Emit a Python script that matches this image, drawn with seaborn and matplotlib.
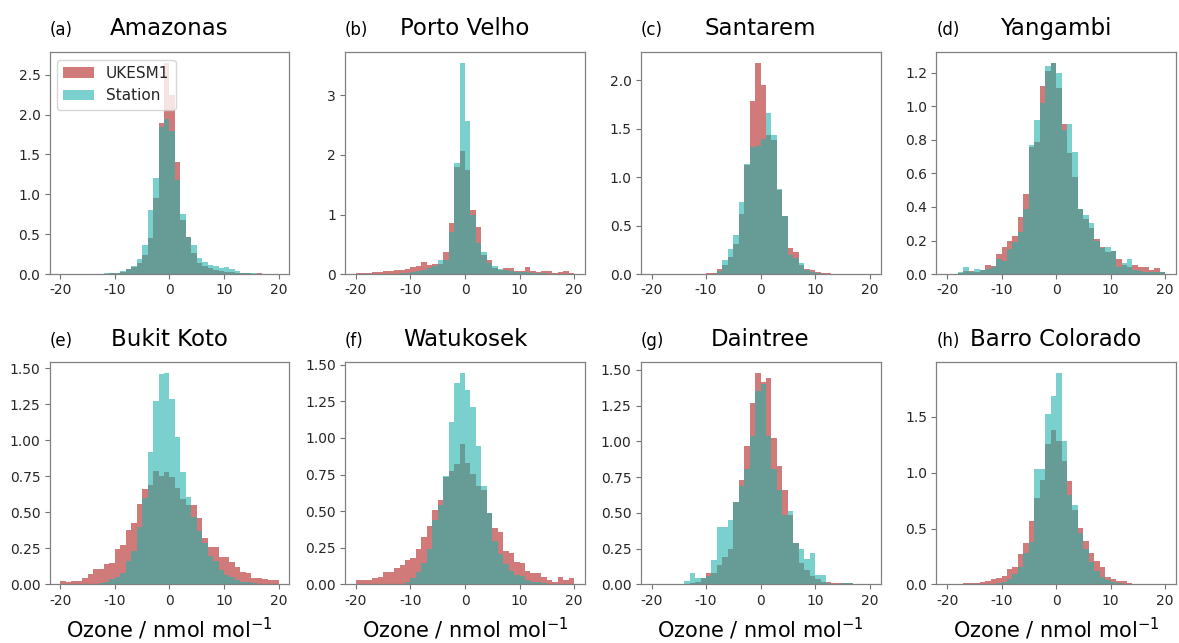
import numpy as np
import pandas as pd
import matplotlib
matplotlib.use("Agg")
import matplotlib.pyplot as plt
import seaborn as sns

# ---------------- data (bin heights, bins of width 1 from -20 to 20) ----------------
bin_edges = list(range(-20, 21))

site_names = ["Amazonas", "Porto Velho", "Santarem", "Yangambi",
              "Bukit Koto", "Watukosek", "Daintree", "Barro Colorado"]
panel_tags = ["(a)", "(b)", "(c)", "(d)", "(e)", "(f)", "(g)", "(h)"]
series_names = ["UKESM1", "Station"]

amazonas_model = [0, 0, 0, 0, 0, 0, 0, 0, 0.003, 0.008,
                  0.012, 0.025, 0.065, 0.095, 0.14, 0.24, 0.45, 0.96, 1.89, 2.65,
                  2.24, 1.40, 0.68, 0.46, 0.26, 0.14, 0.10, 0.08, 0.055, 0.04,
                  0.03, 0.025, 0.017, 0.012, 0.008, 0.006, 0.008, 0.004, 0, 0]
amazonas_station = [0, 0, 0, 0, 0, 0, 0, 0, 0.008, 0.015,
                    0.02, 0.035, 0.07, 0.10, 0.19, 0.36, 0.80, 1.20, 1.84, 1.95,
                    1.79, 1.18, 0.75, 0.47, 0.36, 0.20, 0.15, 0.12, 0.10, 0.075,
                    0.09, 0.06, 0.035, 0.02, 0.012, 0.008, 0.005, 0.003, 0, 0]

portovelho_model = [0.02, 0.02, 0.015, 0.03, 0.035, 0.045, 0.06, 0.075, 0.075, 0.085,
                    0.12, 0.13, 0.20, 0.16, 0.17, 0.17, 0.37, 0.86, 1.80, 2.06,
                    1.74, 1.07, 0.79, 0.32, 0.24, 0.10, 0.07, 0.11, 0.10, 0.06,
                    0.06, 0.12, 0.045, 0.04, 0.06, 0.05, 0.02, 0.03, 0.05, 0.025]
portovelho_station = [0, 0, 0, 0, 0, 0, 0.005, 0.008, 0.012, 0.02,
                      0.03, 0.045, 0.07, 0.10, 0.13, 0.24, 0.24, 0.71, 1.87, 3.55,
                      2.57, 1.00, 0.52, 0.37, 0.19, 0.13, 0.09, 0.07, 0.045, 0.04,
                      0.035, 0.03, 0.025, 0.02, 0.012, 0.008, 0.005, 0, 0, 0]

santarem_model = [0, 0, 0, 0, 0, 0, 0, 0, 0.003, 0.005,
                  0.01, 0.015, 0.05, 0.09, 0.18, 0.31, 0.62, 1.12, 1.78, 2.18,
                  1.95, 1.43, 1.38, 0.87, 0.60, 0.27, 0.23, 0.095, 0.05, 0.04,
                  0.025, 0.015, 0.008, 0.003, 0, 0, 0, 0, 0, 0]
santarem_station = [0, 0, 0, 0, 0, 0, 0, 0, 0, 0,
                    0, 0.005, 0.03, 0.15, 0.26, 0.40, 0.74, 1.14, 1.31, 1.32,
                    1.39, 1.66, 1.43, 0.88, 0.60, 0.20, 0.165, 0.11, 0.04, 0.02,
                    0.01, 0.005, 0, 0, 0, 0, 0, 0, 0, 0]

yangambi_model = [0, 0, 0.005, 0.016, 0.016, 0.01, 0.026, 0.056, 0.05, 0.12,
                  0.16, 0.20, 0.23, 0.34, 0.48, 0.76, 0.79, 1.12, 1.21, 1.26,
                  1.11, 0.895, 0.72, 0.58, 0.39, 0.33, 0.275, 0.21, 0.16, 0.13,
                  0.135, 0.09, 0.056, 0.045, 0.052, 0.042, 0.042, 0.022, 0.036, 0.01]
yangambi_station = [0, 0, 0.01, 0.04, 0.01, 0.03, 0.026, 0.03, 0.045, 0.09,
                    0.08, 0.15, 0.19, 0.25, 0.39, 0.77, 0.92, 1.02, 1.24, 1.26,
                    1.20, 0.86, 0.895, 0.73, 0.385, 0.35, 0.305, 0.20, 0.155, 0.16,
                    0.135, 0.045, 0.066, 0.09, 0.026, 0.02, 0.015, 0.012, 0.01, 0.015]

bukitkoto_model = [0.025, 0.018, 0.023, 0.023, 0.042, 0.075, 0.11, 0.11, 0.145, 0.15,
                   0.245, 0.275, 0.38, 0.425, 0.56, 0.665, 0.69, 0.786, 0.75, 0.78,
                   0.744, 0.67, 0.59, 0.55, 0.55, 0.46, 0.32, 0.26, 0.26, 0.19,
                   0.193, 0.158, 0.123, 0.088, 0.077, 0.046, 0.046, 0.035, 0.03, 0.03]
bukitkoto_station = [0, 0, 0, 0, 0, 0, 0.005, 0.01, 0.02, 0.035,
                     0.053, 0.077, 0.16, 0.23, 0.40, 0.60, 0.92, 1.27, 1.46, 1.467,
                     1.286, 1.02, 0.78, 0.61, 0.47, 0.37, 0.29, 0.20, 0.16, 0.10,
                     0.065, 0.053, 0.03, 0.02, 0.015, 0.01, 0.005, 0, 0, 0]

watukosek_model = [0.034, 0.034, 0.034, 0.041, 0.053, 0.087, 0.087, 0.11, 0.133, 0.167,
                   0.178, 0.24, 0.327, 0.396, 0.51, 0.574, 0.735, 0.773, 0.82, 0.956,
                   0.826, 0.757, 0.67, 0.647, 0.49, 0.384, 0.361, 0.23, 0.217, 0.155,
                   0.149, 0.094, 0.08, 0.08, 0.053, 0.034, 0.018, 0.053, 0.034, 0.041]
watukosek_station = [0, 0, 0, 0, 0, 0, 0, 0, 0.005, 0.018,
                     0.046, 0.087, 0.15, 0.24, 0.44, 0.544, 0.743, 1.11, 1.374, 1.443,
                     1.33, 1.21, 0.944, 0.67, 0.49, 0.30, 0.21, 0.14, 0.09, 0.064,
                     0.057, 0.03, 0.02, 0.015, 0.01, 0.005, 0, 0, 0, 0]

daintree_model = [0, 0, 0, 0, 0, 0, 0.005, 0.01, 0.02, 0.042,
                  0.077, 0.08, 0.136, 0.194, 0.25, 0.573, 0.728, 0.967, 1.266, 1.477,
                  1.416, 1.44, 1.025, 0.826, 0.662, 0.487, 0.29, 0.15, 0.10, 0.06,
                  0.04, 0.02, 0.015, 0.01, 0.008, 0.008, 0.008, 0.006, 0.004, 0]
daintree_station = [0, 0, 0, 0, 0, 0, 0.023, 0.077, 0.042, 0.047,
                    0.06, 0.17, 0.40, 0.40, 0.447, 0.573, 0.686, 0.807, 1.037, 1.353,
                    1.40, 1.04, 0.807, 0.662, 0.487, 0.51, 0.288, 0.246, 0.18, 0.218,
                    0.066, 0.066, 0.012, 0.005, 0.005, 0.012, 0.012, 0.005, 0, 0]

barrocolorado_model = [0, 0, 0.005, 0.015, 0.009, 0.009, 0.024, 0.033, 0.045, 0.06,
                       0.078, 0.138, 0.153, 0.273, 0.375, 0.564, 0.77, 0.933, 1.254, 1.383,
                       1.284, 1.104, 0.924, 0.67, 0.504, 0.393, 0.279, 0.213, 0.153, 0.069,
                       0.045, 0.033, 0.03, 0.015, 0.005, 0, 0, 0, 0, 0]
barrocolorado_station = [0, 0, 0, 0, 0, 0, 0, 0, 0, 0.012,
                         0.025, 0.05, 0.09, 0.16, 0.28, 0.384, 1.035, 1.035, 1.524, 1.683,
                         1.893, 1.284, 0.80, 0.714, 0.465, 0.32, 0.20, 0.12, 0.07, 0.04,
                         0.025, 0.01, 0, 0, 0, 0, 0, 0, 0, 0]

model_series = [amazonas_model, portovelho_model, santarem_model, yangambi_model,
                bukitkoto_model, watukosek_model, daintree_model, barrocolorado_model]
station_series = [amazonas_station, portovelho_station, santarem_station, yangambi_station,
                  bukitkoto_station, watukosek_station, daintree_station, barrocolorado_station]

# ---------------- style ----------------
sns.set_style("ticks")
plt.rcParams["font.family"] = ["DejaVu Sans"]
plt.rcParams["axes.unicode_minus"] = False
plt.rcParams["axes.edgecolor"] = "0.5"
plt.rcParams["xtick.color"] = "0.45"
plt.rcParams["ytick.color"] = "0.45"
plt.rcParams["xtick.labelcolor"] = "0.15"
plt.rcParams["ytick.labelcolor"] = "0.15"

model_color = "firebrick"
station_color = "lightseagreen"

fig, axes = plt.subplots(2, 4, figsize=(11.79, 6.43), dpi=100)
fig.subplots_adjust(left=0.042, right=0.9975, top=0.919, bottom=0.091,
                    wspace=0.232, hspace=0.398)

centers = [(bin_edges[k] + bin_edges[k + 1]) / 2 for k in range(len(bin_edges) - 1)]

for i, ax in enumerate(axes.flat):
    for vals, col, lab in [(model_series[i], model_color, series_names[0]),
                           (station_series[i], station_color, series_names[1])]:
        df = pd.DataFrame({"ozone": centers, "w": vals})
        sns.histplot(data=df, x="ozone", weights="w", bins=bin_edges, stat="count",
                     element="step", fill=True, color=col, alpha=0.6,
                     linewidth=0, ax=ax, label=lab)
    ymax = max(max(model_series[i]), max(station_series[i]))
    ax.set_xlim(-22, 22)
    ax.set_ylim(0, ymax * 1.05)
    ax.set_xticks([-20, -10, 0, 10, 20])
    ax.set_ylabel("")
    ax.tick_params(labelsize=10, length=3.5, width=0.8, pad=3)
    for sp in ax.spines.values():
        sp.set_linewidth(0.9)
    ax.set_title(site_names[i], fontsize=16.5, pad=12, color="black")
    ax.set_title(panel_tags[i], loc="left", fontsize=12, pad=12, color="black")
    if i >= 4:
        ax.set_xlabel("Ozone / nmol mol$^{-1}$", fontsize=15, color="black", labelpad=6)
    else:
        ax.set_xlabel("")

axes[0, 0].legend(loc="upper left", fontsize=11, frameon=True)

fig.savefig("out.png", dpi=100)
